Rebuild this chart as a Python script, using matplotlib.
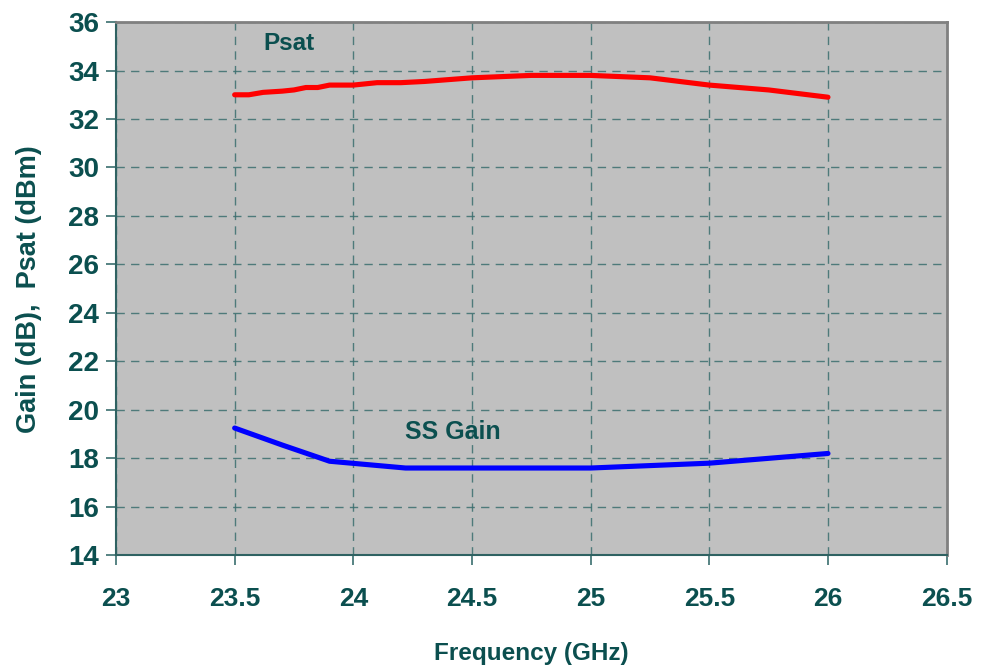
import matplotlib
matplotlib.use('Agg')
import matplotlib.pyplot as plt

# data
freq_psat = [23.5, 23.56, 23.62, 23.7, 23.75, 23.8, 23.85, 23.9, 24.0, 24.1,
             24.2, 24.3, 24.5, 24.75, 25.0, 25.25, 25.5, 25.75, 26.0]
psat = [33.0, 33.0, 33.1, 33.15, 33.2, 33.3, 33.3, 33.4, 33.4, 33.5,
        33.5, 33.55, 33.7, 33.8, 33.8, 33.7, 33.4, 33.2, 32.9]

freq_gain = [23.5, 23.7, 23.9, 24.22, 25.0, 25.25, 25.5, 26.0]
ss_gain = [19.25, 18.55, 17.88, 17.6, 17.6, 17.7, 17.8, 18.2]

x_ticks = [23, 23.5, 24, 24.5, 25, 25.5, 26, 26.5]
y_ticks = [14, 16, 18, 20, 22, 24, 26, 28, 30, 32, 34, 36]

fam = ['Liberation Sans', 'DejaVu Sans']
txt = '#0B4F4F'
grid_c = '#3A6E6E'

fig = plt.figure(figsize=(9.83, 6.69), dpi=100)
ax = fig.add_axes([0.118, 0.170, 0.845, 0.797])
ax.set_facecolor('#C0C0C0')

ax.plot(freq_psat, psat, color='#FF0000', lw=3.7, solid_capstyle='round')
ax.plot(freq_gain, ss_gain, color='#0000FF', lw=3.7, solid_capstyle='round')

ax.set_xlim(23, 26.5)
ax.set_ylim(14, 36)
ax.set_xticks(x_ticks)
ax.set_yticks(y_ticks)
ax.set_xticklabels([('%g' % v) for v in x_ticks], family=fam, fontweight='bold',
                   fontsize=19, color=txt)
ax.set_yticklabels([str(v) for v in y_ticks], family=fam, fontweight='bold',
                   fontsize=20, color=txt)
ax.tick_params(axis='both', direction='out', length=7, width=1.2, color=grid_c)
ax.tick_params(axis='x', pad=16)
ax.tick_params(axis='y', pad=5)

ax.grid(True, color=grid_c, lw=1.0, linestyle=(0, (6, 4.5)), alpha=0.85)
ax.set_axisbelow(True)

for s in ['left', 'bottom']:
    ax.spines[s].set_color('#2F6262')
    ax.spines[s].set_linewidth(1.5)
for s in ['top', 'right']:
    ax.spines[s].set_color('#808080')
    ax.spines[s].set_linewidth(2)

ax.text(23.73, 35.1, 'Psat', family=fam, fontweight='bold', fontsize=17.5,
        color=txt, ha='center', va='center')
ax.text(24.42, 19.1, 'SS Gain', family=fam, fontweight='bold', fontsize=18,
        color=txt, ha='center', va='center')

ax.set_xlabel('Frequency (GHz)', family=fam, fontweight='bold', fontsize=17.5,
              color=txt, labelpad=22)
ax.set_ylabel('Gain (dB),  Psat (dBm)', family=fam, fontweight='bold', fontsize=19.5,
              color=txt, labelpad=19)

fig.savefig('out.png', dpi=100)
